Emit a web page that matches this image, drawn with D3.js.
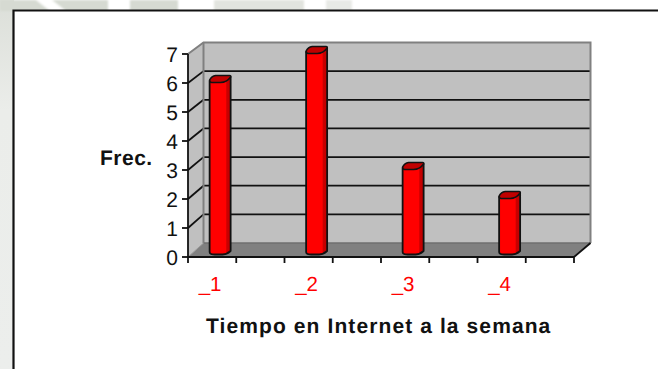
<!DOCTYPE html>
<html><head><meta charset="utf-8">
<script src="https://cdn.jsdelivr.net/npm/d3@7"></script>
<style>html,body{margin:0;padding:0;background:#fff}svg{display:block}text{font-family:"Liberation Sans",Arial,sans-serif;text-rendering:geometricPrecision}</style>
</head><body><svg id="c" width="658" height="369"></svg>
<script>
const categories=["_1","_2","_3","_4"];
const values=[6,7,3,2];
const yTicks=[0,1,2,3,4,5,6,7];
const yLabel="Frec.";
const xLabel="Tiempo en Internet a la semana";
const svg=d3.select("#c");
const W=658,H=369;
const defs=svg.append("defs");
const bg=defs.append("linearGradient").attr("id","bg").attr("x1",0).attr("y1",0).attr("x2",0).attr("y2",1);
bg.append("stop").attr("offset",0).attr("stop-color","#dcdfd9");
bg.append("stop").attr("offset",.3).attr("stop-color","#ebedea");
bg.append("stop").attr("offset",1).attr("stop-color","#eceeec");
const bar=defs.append("linearGradient").attr("id","bar").attr("x1",0).attr("y1",0).attr("x2",1).attr("y2",0);
[[0,"#ff0000"],[.76,"#ff0000"],[.82,"#c80000"],[1,"#c00000"]].forEach(s=>bar.append("stop").attr("offset",s[0]).attr("stop-color",s[1]));
const blur=defs.append("filter").attr("id","soft");
blur.append("feGaussianBlur").attr("stdDeviation",1);

// textured page background behind the frame
svg.append("rect").attr("width",W).attr("height",H).attr("fill","#fff");
svg.append("rect").attr("x",0).attr("y",0).attr("width",14).attr("height",H).attr("fill","url(#bg)");
const deco=svg.append("g").attr("filter","url(#soft)");
deco.append("rect").attr("x",0).attr("y",0).attr("width",108).attr("height",11).attr("fill","#d6dad2");
deco.append("rect").attr("x",130).attr("y",0).attr("width",48).attr("height",11).attr("fill","#d6dad2");
deco.append("rect").attr("x",214).attr("y",0).attr("width",90).attr("height",11).attr("fill","#e2e4df");
deco.append("rect").attr("x",326).attr("y",0).attr("width",26).attr("height",11).attr("fill","#e8eae6");
deco.append("polygon").attr("points","36,0 52,0 66,11 50,11").attr("fill","#fff");

svg.append("rect").attr("x",14).attr("y",11).attr("width",W-14).attr("height",H-11).attr("fill","#fff");
svg.append("path").attr("d",`M13.5,${H}V10.5H${W}`).attr("fill","none").attr("stroke","#111").attr("stroke-width",2.2);

const xL=188,xR=574,dx=15.5;
const yFront=d3.scaleLinear().domain([0,7]).range([257,54]);
const yBack=d3.scaleLinear().domain([0,7]).range([243,42.5]);
const x=d3.scaleBand().domain(categories).range([xL,xR]);
const half=x.step()/2;
const g=svg.append("g");

// walls + floor
g.append("polygon").attr("points",[[xL+dx,yBack(7)],[xR+dx+1,yBack(7)],[xR+dx+1,yBack(0)],[xL+dx,yBack(0)]].join(" ")).attr("fill","#c0c0c0");
g.append("polygon").attr("points",[[xL,yFront(7)],[xL+dx,yBack(7)],[xL+dx,yBack(0)],[xL,yFront(0)]].join(" ")).attr("fill","#c0c0c0");
g.append("polygon").attr("points",[[xL,yFront(0)],[xL+dx,yBack(0)],[xR+dx+1,yBack(0)],[xR,yFront(0)]].join(" ")).attr("fill","#808080");

// grid lines
const grid=yTicks.filter(d=>d>0&&d<7);
g.selectAll("line.gb").data(grid).join("line").attr("x1",xL+dx).attr("x2",xR+dx+1).attr("y1",d=>yBack(d)).attr("y2",d=>yBack(d)).attr("stroke","#111").attr("stroke-width",1.8);
g.selectAll("line.gl").data(grid).join("line").attr("x1",xL).attr("x2",xL+dx).attr("y1",d=>yFront(d)).attr("y2",d=>yBack(d)).attr("stroke","#111").attr("stroke-width",1.8);

// wall outlines
g.append("path").attr("d",`M${xL},${yFront(7)}L${xL+dx},${yBack(7)}H${xR+dx+1}V${yBack(0)}`).attr("fill","none").attr("stroke","#808080").attr("stroke-width",2);
g.append("line").attr("x1",xL+dx).attr("x2",xL+dx).attr("y1",yBack(7)).attr("y2",yBack(0)).attr("stroke","#808080").attr("stroke-width",2);
g.append("line").attr("x1",xL+dx).attr("x2",xR+dx+1).attr("y1",yBack(0)).attr("y2",yBack(0)).attr("stroke","#6f6f6f").attr("stroke-width",1.5);
g.append("line").attr("x1",xL).attr("x2",xL+dx).attr("y1",yFront(0)).attr("y2",yBack(0)).attr("stroke","#9a9a9a").attr("stroke-width",1);
g.append("line").attr("x1",xR).attr("x2",xR+dx+1).attr("y1",yFront(0)).attr("y2",yBack(0)).attr("stroke","#111").attr("stroke-width",1.8);

// axes
const ax=g.append("g");
ax.append("line").attr("x1",xL).attr("x2",xL).attr("y1",yFront(7)).attr("y2",yFront(0)).attr("stroke","#111").attr("stroke-width",1.8);
ax.append("line").attr("x1",xL-1).attr("x2",xR).attr("y1",yFront(0)).attr("y2",yFront(0)).attr("stroke","#111").attr("stroke-width",2);
ax.selectAll("line.yt").data(yTicks).join("line").attr("x1",xL-6).attr("x2",xL).attr("y1",d=>yFront(d)).attr("y2",d=>yFront(d)).attr("stroke","#111").attr("stroke-width",1.8);
ax.selectAll("text.yl").data(yTicks).join("text").attr("x",178).attr("y",d=>yFront(d)+8).attr("text-anchor","end").attr("font-size",21).attr("fill","#111").text(d=>d);
const xTicks=d3.range(9).map(i=>xL+i*half);
ax.selectAll("line.xt").data(xTicks).join("line").attr("x1",d=>d).attr("x2",d=>d).attr("y1",yFront(0)).attr("y2",yFront(0)+6).attr("stroke","#111").attr("stroke-width",1.8);
ax.selectAll("text.xl").data(categories).join("text").attr("x",d=>x(d)+half/2-2).attr("y",291).attr("text-anchor","middle").attr("font-size",20.5).attr("fill","#ff0000").text(d=>d);

// bars
const bw=21, fw=17;
const bars=g.selectAll("g.bar").data(categories.map((c,i)=>({c,v:values[i]}))).join("g");
bars.each(function(d){
  const s=d3.select(this), x0=x(d.c)+half/2-2.5, yt=yFront(d.v)-4, yb=yFront(0)-4;
  const body=`M${x0},${yt+2}V${yb-1}Q${x0},${yb+1.5} ${x0+5},${yb+1.5}H${x0+fw-4}Q${x0+fw},${yb+1.5} ${x0+bw},${yb-2}V${yt-2}Z`;
  s.append("path").attr("d",body).attr("fill","url(#bar)").attr("stroke","#111").attr("stroke-width",1.8).attr("stroke-linejoin","round");
  const cap=`M${x0},${yt+1}Q${x0+2},${yt-3} ${x0+6},${yt-3.5}H${x0+bw-1}Q${x0+bw+0.5},${yt-3.5} ${x0+bw},${yt-2}Q${x0+fw},${yt+3.5} ${x0+fw-6},${yt+3.5}H${x0+2}Q${x0},${yt+3.5} ${x0},${yt+1}Z`;
  s.append("path").attr("d",cap).attr("fill","#c00000").attr("stroke","#111").attr("stroke-width",1.6).attr("stroke-linejoin","round");
});

// titles
svg.append("text").attr("x",100).attr("y",165).attr("font-size",21).attr("font-weight","bold").attr("letter-spacing",0.5).attr("fill","#111").text(yLabel);
svg.append("text").attr("x",206).attr("y",333).attr("font-size",21).attr("font-weight","bold").attr("letter-spacing",1.1).attr("fill","#111").text(xLabel);
</script></body></html>
